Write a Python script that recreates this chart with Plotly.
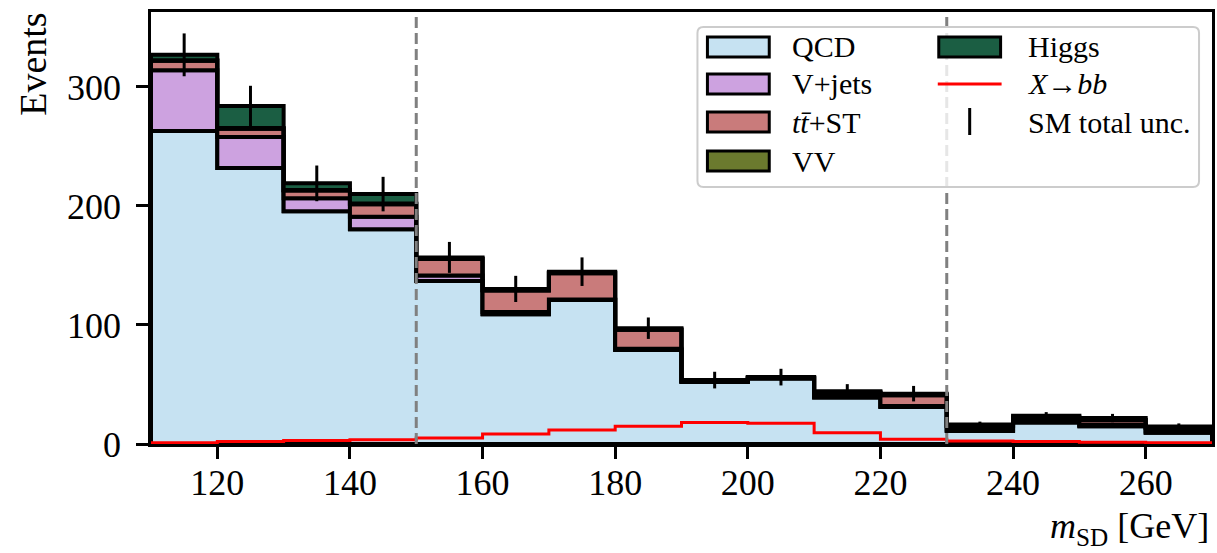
import plotly.graph_objects as go

# ---------------- data ----------------
bin_edges = [110, 120, 130, 140, 150, 160, 170, 180, 190, 200, 210, 220, 230, 240, 250, 260, 270]
qcd    = [263, 232, 195.5, 180.5, 137, 109, 121, 79, 52, 55, 39, 31, 11, 18, 15, 9.5]
vjets  = [51, 26, 11, 10.5, 4.5, 2, 0.5, 1, 0.5, 0.3, 1, 1, 1, 1, 1, 1]
ttst   = [8, 7, 6.5, 10.5, 14, 18, 22, 16, 0.5, 0.3, 3, 9, 3, 3, 4, 3]
vv     = [0.5, 0.5, 0.5, 0.5, 0.3, 0.3, 0.3, 0.3, 0.2, 0.2, 0.3, 0.3, 0.3, 0.3, 0.3, 0.3]
higgs  = [4.5, 18.5, 5.5, 8, 1, 1, 1, 1, 0.5, 0.4, 1, 1, 1, 1.5, 1.5, 1]
xbb    = [1, 2, 3, 3.5, 5, 8.4, 11.8, 15, 18, 17.5, 9.5, 4, 2.5, 2, 1.5, 1]
sm_unc = [18, 17, 15, 14.5, 13, 11, 12, 9, 7, 7, 6, 6.5, 2.5, 3, 3.5, 2.5]
region_edges = [150, 230]

components = [
    ("QCD", qcd, "#c6e2f2"),
    ("V+jets", vjets, "#cda2e0"),
    ("<i>t</i><i>t̄</i>+ST", ttst, "#c97b7b"),
    ("VV", vv, "#6b7a2e"),
    ("Higgs", higgs, "#1b5e43"),
]
xticks = [120, 140, 160, 180, 200, 220, 240, 260]
yticks = [0, 100, 200, 300]

FONT = "Liberation Serif"
W, H = 1217, 553
L, R, T, B = 151, 1215, 12, 444


def px(x):
    return (x - L) / (R - L)


def py(y):
    return (B - y) / (B - T)


def step_polygon(edges, bottom, top):
    xs, ys = [], []
    for i in range(len(top)):
        xs += [edges[i], edges[i + 1]]
        ys += [top[i], top[i]]
    for i in reversed(range(len(bottom))):
        xs += [edges[i + 1], edges[i]]
        ys += [bottom[i], bottom[i]]
    xs.append(xs[0])
    ys.append(ys[0])
    return xs, ys


fig = go.Figure()
nb = len(qcd)
bottom = [0.0] * nb
for name, vals, col in components:
    top = [b + v for b, v in zip(bottom, vals)]
    xs, ys = step_polygon(bin_edges, bottom, top)
    fig.add_trace(go.Scatter(x=xs, y=ys, fill="toself", fillcolor=col, mode="lines",
                             line=dict(color="black", width=4), name=name,
                             showlegend=False, hoverinfo="skip"))
    bottom = top
total = bottom

# signal step line
fig.add_trace(go.Scatter(x=bin_edges, y=xbb + [xbb[-1]], mode="lines", line_shape="hv",
                         line=dict(color="#ff0000", width=3), showlegend=False))

# total uncertainty
centers = [(bin_edges[i] + bin_edges[i + 1]) / 2 for i in range(nb)]
fig.add_trace(go.Scatter(x=centers, y=total, mode="markers",
                         marker=dict(size=1, opacity=0),
                         error_y=dict(type="data", array=sm_unc, color="black", thickness=3, width=0),
                         showlegend=False))

shapes = []
for xe in region_edges:
    shapes.append(dict(type="line", xref="x", yref="paper", x0=xe, x1=xe, y0=0, y1=1,
                       line=dict(color="#808080", width=3, dash="11px,5px"), layer="above"))

# legend box (rounded)
bx0, bx1, by0, by1, rr = 699, 1202, 27, 187, 6
path = (f"M {px(bx0+rr)},{py(by0)} L {px(bx1-rr)},{py(by0)} Q {px(bx1)},{py(by0)} {px(bx1)},{py(by0+rr)} "
        f"L {px(bx1)},{py(by1-rr)} Q {px(bx1)},{py(by1)} {px(bx1-rr)},{py(by1)} "
        f"L {px(bx0+rr)},{py(by1)} Q {px(bx0)},{py(by1)} {px(bx0)},{py(by1-rr)} "
        f"L {px(bx0)},{py(by0+rr)} Q {px(bx0)},{py(by0)} {px(bx0+rr)},{py(by0)} Z")
shapes.append(dict(type="path", xref="paper", yref="paper", path=path,
                   fillcolor="rgba(255,255,255,0.8)", line=dict(color="#cccccc", width=2), layer="above"))

annotations = []
row_y = [47, 84, 122, 161]
# column 1: first four components
for (name, vals, col), yc in zip(components[:4], row_y):
    shapes.append(dict(type="rect", xref="paper", yref="paper", x0=px(709), x1=px(771),
                       y0=py(yc - 10), y1=py(yc + 10), fillcolor=col,
                       line=dict(color="black", width=3), layer="above"))
    annotations.append(dict(x=px(792), y=py(yc), xref="paper", yref="paper", text=name,
                            showarrow=False, xanchor="left", yanchor="middle",
                            font=dict(family=FONT, size=30, color="black")))
# column 2
name, vals, col = components[4]
shapes.append(dict(type="rect", xref="paper", yref="paper", x0=px(941), x1=px(1003),
                   y0=py(row_y[0] - 10), y1=py(row_y[0] + 10), fillcolor=col,
                   line=dict(color="black", width=3), layer="above"))
shapes.append(dict(type="line", xref="paper", yref="paper", x0=px(940), x1=px(1004),
                   y0=py(row_y[1]), y1=py(row_y[1]), line=dict(color="#ff0000", width=3), layer="above"))
shapes.append(dict(type="line", xref="paper", yref="paper", x0=px(972), x1=px(972),
                   y0=py(108), y1=py(135), line=dict(color="black", width=3), layer="above"))
for txt, yc in zip([name, "<i>X</i>→<i>bb</i>", "SM total unc."], row_y[:3]):
    annotations.append(dict(x=px(1028), y=py(yc), xref="paper", yref="paper", text=txt,
                            showarrow=False, xanchor="left", yanchor="middle",
                            font=dict(family=FONT, size=30, color="black")))

# axis titles
annotations.append(dict(x=px(1214), y=py(504), xref="paper", yref="paper",
                        text="<i>m</i><sub>SD</sub> [GeV]", showarrow=False,
                        xanchor="right", yanchor="top", font=dict(family=FONT, size=36, color="black")))
annotations.append(dict(x=px(33), y=py(11), xref="paper", yref="paper", text="Events",
                        textangle=-90, showarrow=False, xanchor="center", yanchor="top",
                        font=dict(family=FONT, size=38, color="black")))

fig.update_layout(
    width=W, height=H,
    margin=dict(l=L, r=W - R, t=T, b=H - B),
    paper_bgcolor="white", plot_bgcolor="white",
    showlegend=False,
    shapes=shapes, annotations=annotations,
    font=dict(family=FONT, size=36, color="black"),
)
fig.update_xaxes(range=[110, 270], tickvals=xticks, ticks="outside", ticklen=12, tickwidth=2.5,
                 tickcolor="black", showline=True, linewidth=2.5, linecolor="black", mirror=True,
                 showgrid=False, zeroline=False, tickfont=dict(family=FONT, size=36, color="black"),
                 ticklabelstandoff=-7)
fig.update_yaxes(range=[0, 363], tickvals=yticks, ticks="outside", ticklen=12, tickwidth=2.5,
                 tickcolor="black", showline=True, linewidth=2.5, linecolor="black", mirror=True,
                 showgrid=False, zeroline=False, tickfont=dict(family=FONT, size=36, color="black"),
                 ticklabelstandoff=8)

fig.write_html(
    "out.html",
    config={"displayModeBar": False},
    post_script="document.body.style.margin='0';document.documentElement.style.overflow='hidden';",
)
